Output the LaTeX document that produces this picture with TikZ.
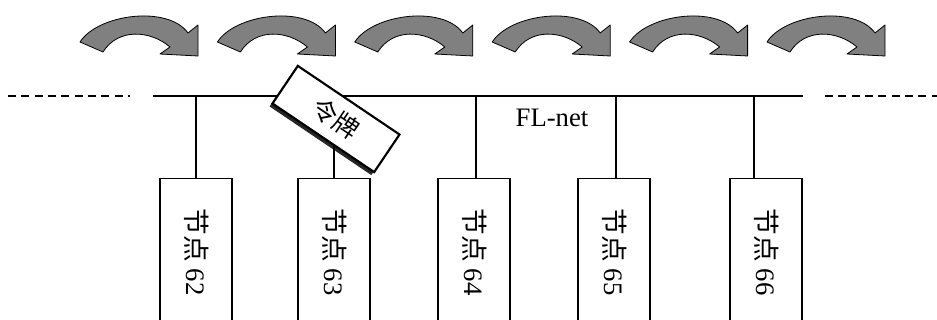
\documentclass[tikz,border=0pt]{standalone}
\usepackage{fontspec}
\setmainfont{Liberation Serif}
\newfontfamily\cjk{Noto Sans CJK SC}
\usetikzlibrary{shadows}

\tikzset{
	arrowfill/.style={fill=black!50, draw=black, line width=0.6pt, line join=round},
	stationbox/.style={draw, line width=1.1pt, rotate=-90, minimum width=110pt, minimum height=54pt, inner sep=0pt,
		text height=1.5em, text depth=0.1em, font=\fontsize{20}{22}\selectfont},
	tokenbox/.style={draw, line width=1.6pt, fill=white, rotate=-34, minimum width=92pt, minimum height=34pt, inner sep=0pt,
		drop shadow={shadow xshift=-2.2pt, shadow yshift=-2.2pt, fill=black, opacity=0.85}, font=\cjk\fontsize{19}{21}\selectfont},
	busline/.style={line width=1.1pt},
}

\begin{document}
\begin{tikzpicture}[x=0.75pt,y=0.75pt,yscale=-1,xscale=1]
		\clip (0,0) rectangle (937,320) ;
		% token passing arrows
		\foreach \i in {0,...,5}
			\draw [arrowfill, shift={({80+137.4*\i},0)}] (0,42) .. controls (18,14) and (88,5) .. (108,33) -- (118,25) -- (118,56) -- (80,54) -- (90,47) .. controls (70,30) and (38,28) .. (23,52) -- cycle ;
		% bus
		\coordinate (busL) at (153,96) ;
		\coordinate (busR) at (803,96) ;
		\coordinate (dashLa) at (8,96) ;
		\coordinate (dashLb) at (130,96) ;
		\coordinate (dashRa) at (825,96) ;
		\coordinate (dashRb) at (937,96) ;
		\draw [busline] (busL) -- (busR) ;
		\draw [busline, dash pattern={on 6pt off 4pt}] (dashLa) -- (dashLb) ;
		\draw [busline, dash pattern={on 6pt off 4pt}] (dashRa) -- (dashRb) ;
		% stations
		\node [stationbox] (n62) at (196,252) {{\cjk 节点} 62};
		\node [stationbox] (n63) at (334,252) {{\cjk 节点} 63};
		\node [stationbox] (n64) at (474,252) {{\cjk 节点} 64};
		\node [stationbox] (n65) at (614,252) {{\cjk 节点} 65};
		\node [stationbox] (n66) at (766,252) {{\cjk 节点} 66};
		\draw [busline] (n62.west) -- (n62.west |- busL) ;
		\draw [busline] (n63.west) -- (n63.west |- busL) ;
		\draw [busline] ([xshift=1.5pt]n64.west) -- ([xshift=1.5pt]n64.west |- busL) ;
		\draw [busline] ([xshift=1.5pt]n65.west) -- ([xshift=1.5pt]n65.west |- busL) ;
		\draw [busline] ([xshift=-9pt]n66.west) -- ([xshift=-9pt]n66.west |- busL) ;
		\draw (552,118) node [font=\fontsize{20}{22}\selectfont] (fl) {FL-net};
		% token
		\node [tokenbox] (token) at (336,119) {令牌};
	\end{tikzpicture}
\end{document}
